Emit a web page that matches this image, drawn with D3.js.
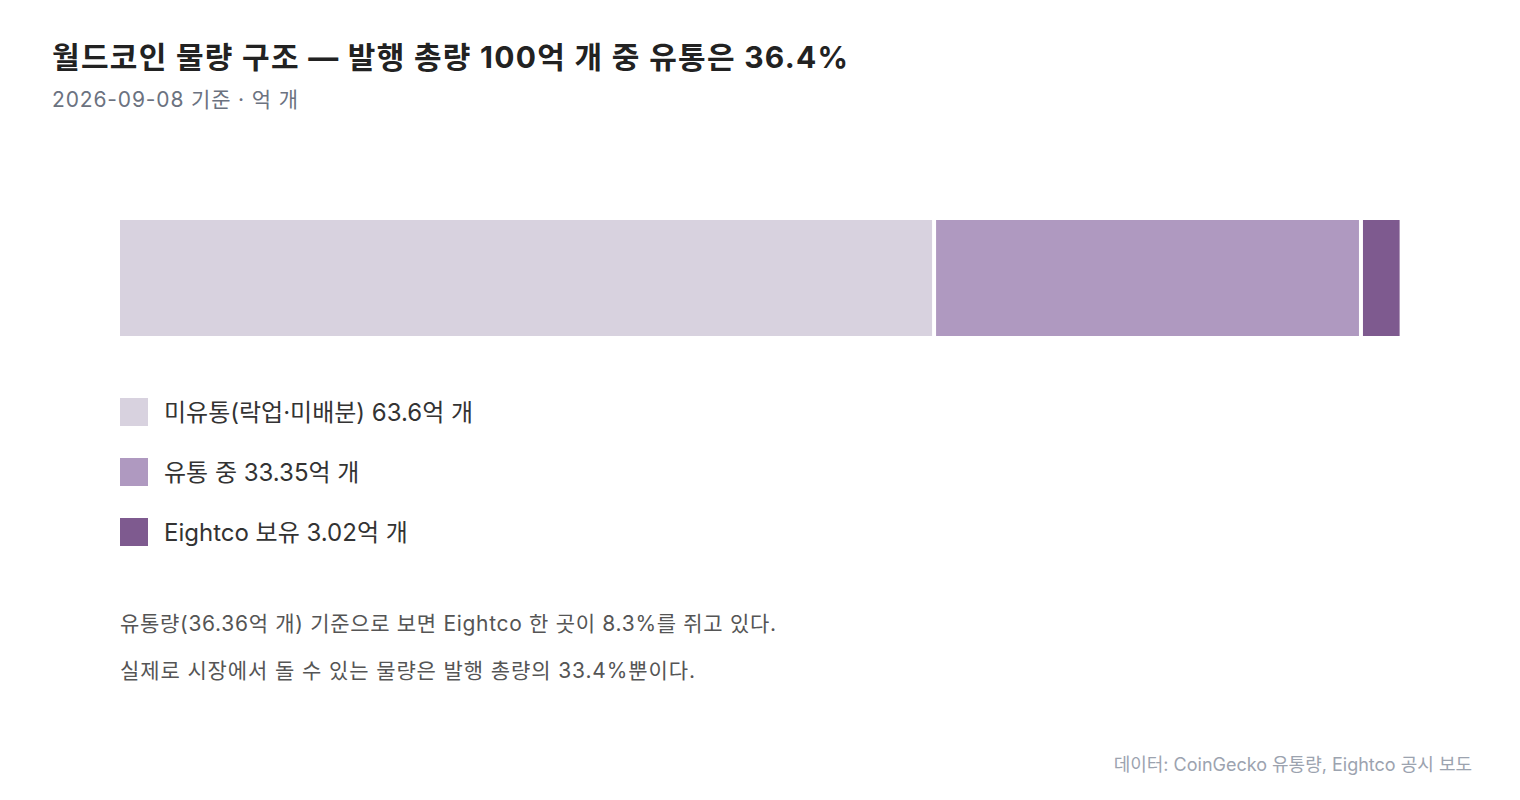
<!DOCTYPE html>
<html><head><meta charset="utf-8">
<script src="https://cdn.jsdelivr.net/npm/d3@7"></script>
<style>
html,body{margin:0;padding:0;background:#fff;}
svg{display:block;font-family:Inter,"Noto Sans CJK KR","Noto Sans",sans-serif;}
</style></head>
<body>
<svg id="chart" width="1520" height="800"></svg>
<script>
const categories = ["미유통(락업·미배분)", "유통 중", "Eightco 보유"];
const values = [63.6, 33.35, 3.02];
const colors = ["#d8d2df", "#af99c0", "#7e5a8f"];
const totalSupply = 100;
const title = "월드코인 물량 구조 — 발행 총량 100억 개 중 유통은 36.4%";
const subtitle = "2026-09-08 기준 · 억 개";
const notes = [
  "유통량(36.36억 개) 기준으로 보면 Eightco 한 곳이 8.3%를 쥐고 있다.",
  "실제로 시장에서 돌 수 있는 물량은 발행 총량의 33.4%뿐이다."
];
const source = "데이터: CoinGecko 유통량, Eightco 공시 보도";

const svg = d3.select("#chart");

svg.append("text").attr("x", 52).attr("y", 68)
  .attr("font-size", 30).attr("font-weight", 700).attr("fill", "#222")
  .attr("textLength", 796).attr("lengthAdjust", "spacing")
  .text(title);
svg.append("text").attr("x", 52).attr("y", 107)
  .attr("font-size", 21).attr("fill", "#6b7280")
  .attr("textLength", 246).attr("lengthAdjust", "spacing")
  .text(subtitle);

const x = d3.scaleLinear().domain([0, totalSupply]).range([120, 1400]);
const y = d3.scaleBand().domain(["total"]).range([220, 336]);

let acc = 0;
const segs = values.map((v, i) => { const s = {v, i, start: acc}; acc += v; return s; });
const last = segs.length - 1;
svg.append("g").selectAll("rect").data(segs).join("rect")
  .attr("x", d => x(d.start) + (d.i > 0 ? 2 : 0))
  .attr("width", d => x(d.start + d.v) - x(d.start) - (d.i > 0 ? 2 : 0) - (d.i < last ? 2 : 0))
  .attr("y", y("total"))
  .attr("height", y.bandwidth())
  .attr("fill", d => colors[d.i]);

const leg = svg.append("g").selectAll("g").data(segs).join("g")
  .attr("transform", d => `translate(120, ${398 + d.i * 60})`);
leg.append("rect").attr("width", 28).attr("height", 28).attr("fill", d => colors[d.i]);
leg.append("text").attr("x", 44).attr("y", 23)
  .attr("font-size", 24).attr("fill", "#333")
  .text(d => `${categories[d.i]} ${d.v}억 개`);

const noteWidths = [656, 575];
svg.append("g").selectAll("text").data(notes).join("text")
  .attr("x", 120).attr("y", (d, i) => 631 + i * 47)
  .attr("font-size", 21).attr("fill", "#555")
  .attr("textLength", (d, i) => noteWidths[i]).attr("lengthAdjust", "spacing")
  .text(d => d);

svg.append("text").attr("x", 1472).attr("y", 771).attr("text-anchor", "end")
  .attr("font-size", 18).attr("fill", "#9ca3af")
  .text(source);
</script>
</body></html>
